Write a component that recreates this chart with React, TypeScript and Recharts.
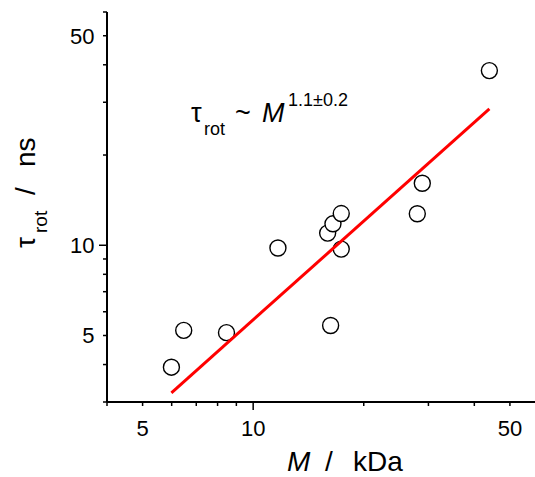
import React from "react";
import { ScatterChart, Scatter, XAxis, YAxis } from "recharts";

// Molecular mass (kDa) and rotational correlation time (ns)
const massKDa = [5.99, 6.47, 8.46, 11.68, 15.95, 16.49, 17.37, 17.37, 16.25, 27.98, 28.87, 43.96];
const tauNs = [3.92, 5.2, 5.11, 9.79, 10.98, 11.79, 12.76, 9.71, 5.4, 12.74, 16.1, 38.25];

// Power-law fit line end points
const fitMass = [5.99, 43.96];
const fitTau = [3.22, 28.5];

const xTicks = [4, 5, 6, 7, 8, 9, 10, 20, 30, 40, 50, 60];
const yTicks = [3, 4, 5, 6, 7, 8, 9, 10, 20, 30, 40, 50, 60];
const labeledTicks = [5, 10, 50];
const longTicks = [10];

const points = massKDa.map((m, i) => ({ m, t: tauNs[i] }));
const fitData = fitMass.map((m, i) => ({ m, t: fitTau[i] }));

const FONT = "'Liberation Sans', Arial, sans-serif";

const XTick = (props: any) => {
  const { x, y, payload } = props;
  const v = payload.value;
  const len = longTicks.includes(v) ? 8 : 4;
  return (
    <g>
      <line x1={x} y1={y} x2={x} y2={y + len} stroke="#000" strokeWidth={1.5} />
      {labeledTicks.includes(v) && (
        <text x={x} y={y + 33.5} textAnchor="middle" fontSize={22} fontFamily={FONT} fill="#000">
          {v}
        </text>
      )}
    </g>
  );
};

const YTick = (props: any) => {
  const { x, y, payload } = props;
  const v = payload.value;
  const len = longTicks.includes(v) ? 8 : 4;
  return (
    <g>
      <line x1={x} y1={y} x2={x - len} y2={y} stroke="#000" strokeWidth={1.5} />
      {labeledTicks.includes(v) && (
        <text x={x - 12.5} y={y + 8} textAnchor="end" fontSize={22} fontFamily={FONT} fill="#000">
          {v}
        </text>
      )}
    </g>
  );
};

const Dot = (props: any) => {
  const { cx, cy } = props;
  if (cx == null || cy == null) return <g />;
  return <circle cx={cx} cy={cy} r={8} fill="#fff" stroke="#000" strokeWidth={1.4} />;
};

const NoShape = () => <g />;

export default function App() {
  return (
    <div
      style={{
        position: "absolute",
        left: 0,
        top: 0,
        width: 535,
        height: 477,
        overflow: "hidden",
        background: "#fff",
      }}
    >
      <ScatterChart width={560} height={477} margin={{ top: 12, right: 21, left: 0, bottom: 0 }}>
        <XAxis
          dataKey="m"
          type="number"
          scale="log"
          domain={[4, 60]}
          allowDataOverflow
          ticks={xTicks}
          interval={0}
          height={75}
          tickSize={0}
          tickMargin={0}
          tickLine={false}
          axisLine={{ stroke: "#000", strokeWidth: 2 }}
          tick={<XTick />}
        />
        <YAxis
          dataKey="t"
          type="number"
          scale="log"
          domain={[3, 60]}
          allowDataOverflow
          ticks={yTicks}
          interval={0}
          width={107}
          tickSize={0}
          tickMargin={0}
          tickLine={false}
          axisLine={{ stroke: "#000", strokeWidth: 2 }}
          tick={<YTick />}
        />
        <Scatter data={points} shape={<Dot />} isAnimationActive={false} />
        <Scatter
          data={fitData}
          shape={<NoShape />}
          line={{ stroke: "#ff0000", strokeWidth: 3 }}
          lineType="joint"
          isAnimationActive={false}
        />
      </ScatterChart>
      <svg
        width={535}
        height={477}
        style={{ position: "absolute", left: 0, top: 0, pointerEvents: "none" }}
      >
        <text fontFamily={FONT} fontSize={27} fill="#000">
          <tspan x={191} y={122}>τ</tspan>
          <tspan x={204} y={135} fontSize={18}>rot</tspan>
          <tspan x={235} y={122}>~</tspan>
          <tspan x={262} y={122} fontStyle="italic">M</tspan>
          <tspan x={288} y={105.5} fontSize={18}>1.1±0.2</tspan>
        </text>
        <text fontFamily={FONT} fontSize={28} fill="#000">
          <tspan x={287} y={471} fontStyle="italic">M</tspan>
          <tspan x={325} y={471}>/</tspan>
          <tspan x={353} y={471}>kDa</tspan>
        </text>
        <text fontFamily={FONT} fontSize={28} fill="#000" transform="rotate(-90 35 248)">
          <tspan x={35} y={248}>τ</tspan>
          <tspan x={50} y={260} fontSize={19}>rot</tspan>
          <tspan x={88} y={248}>/</tspan>
          <tspan x={116} y={248}>ns</tspan>
        </text>
      </svg>
    </div>
  );
}
